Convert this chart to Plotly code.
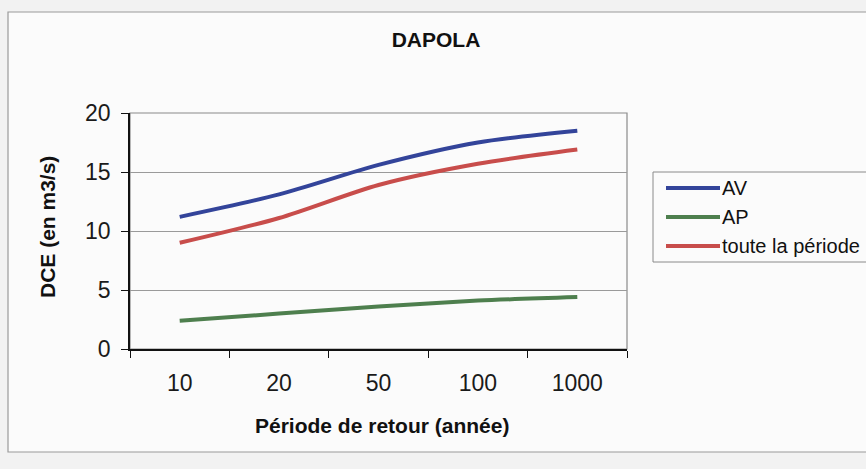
import plotly.graph_objects as go

# Return periods (years) and design flood discharge DCE (m3/s)
periodes = ["10", "20", "50", "100", "1000"]
dce_av = [11.2, 13.1, 15.6, 17.5, 18.5]
dce_ap = [2.4, 3.0, 3.6, 4.1, 4.4]
dce_toute = [9.0, 11.1, 13.9, 15.7, 16.9]

series = [
    ("AV", dce_av, "#33449a"),
    ("AP", dce_ap, "#4e7f4e"),
    ("toute la période", dce_toute, "#c84d4b"),
]

W, H = 866, 469
L, R, T, B = 130, 627, 113, 349  # plot area in pixels
INNER = "#fbfbfb"

fig = go.Figure()
for name, vals, col in series:
    fig.add_trace(go.Scatter(
        x=periodes, y=vals, name=name, mode="lines",
        line=dict(color=col, width=4, shape="spline", smoothing=0.8),
        showlegend=False,
    ))

pw, ph = R - L, B - T
def px(x):
    return (x - L) / pw
def py(y):
    return (B - y) / ph

font = "Arial, Liberation Sans, sans-serif"

shapes = [
    # outer chart border
    dict(type="rect", xref="paper", yref="paper",
         x0=px(8), x1=px(900), y0=py(452), y1=py(12),
         line=dict(color="#9a9a9a", width=1.2), fillcolor=INNER, layer="below"),
    # plot area frame (top and right sides)
    dict(type="rect", xref="paper", yref="paper", x0=0, x1=1, y0=0, y1=1,
         line=dict(color="#8a8a8a", width=1.2), layer="below"),
    # legend box
    dict(type="rect", xref="paper", yref="paper",
         x0=px(653), x1=px(900), y0=py(262), y1=py(172),
         line=dict(color="#8a8a8a", width=1), fillcolor=INNER, layer="below"),
]

annotations = [
    dict(text="<b>DCE (en m3/s)</b>", xref="paper", yref="paper",
         x=px(47), y=py(227), textangle=-90, showarrow=False,
         xanchor="center", yanchor="middle",
         font=dict(size=21, color="#111")),
    dict(text="<b>Période de retour (année)</b>", xref="paper", yref="paper",
         x=px(382), y=py(425), showarrow=False,
         xanchor="center", yanchor="middle",
         font=dict(size=21, color="#111")),
]

# legend entries: line sample followed by its label
leg_rows = [188, 217, 246]
for (name, vals, col), ry in zip(series, leg_rows):
    shapes.append(dict(type="line", xref="paper", yref="paper",
                       x0=px(666), x1=px(720), y0=py(ry), y1=py(ry),
                       line=dict(color=col, width=4)))
    annotations.append(dict(text=name, xref="paper", yref="paper",
                            x=px(720), y=py(ry), showarrow=False,
                            xanchor="left", yanchor="middle",
                            font=dict(size=20, color="#111")))

fig.update_layout(
    width=W, height=H,
    margin=dict(l=L, r=W - R, t=T, b=H - B),
    paper_bgcolor="#f2f2f2",
    plot_bgcolor=INNER,
    font=dict(family=font, color="#1a1a1a"),
    title=dict(text="<b>DAPOLA</b>", x=436 / W, xanchor="center",
               y=1 - 40 / H, yanchor="middle", yref="container",
               font=dict(size=21, color="#111")),
    showlegend=False,
    xaxis=dict(
        type="category", range=[-0.5, 4.5],
        showline=True, linecolor="#111", linewidth=1.5,
        ticks="outside", ticklen=7, tickcolor="#111", tickson="boundaries",
        showgrid=False, tickfont=dict(size=23, color="#1a1a1a"),
        ticklabelstandoff=13, zeroline=False,
    ),
    yaxis=dict(
        range=[0, 20], tickvals=[0, 5, 10, 15, 20],
        showline=True, linecolor="#111", linewidth=1.5,
        ticks="outside", ticklen=7, tickcolor="#111",
        showgrid=True, gridcolor="#9a9a9a", gridwidth=1,
        tickfont=dict(size=23, color="#1a1a1a"),
        ticklabelstandoff=6, zeroline=False,
    ),
    shapes=shapes,
    annotations=annotations,
)

fig.write_html("out.html")
